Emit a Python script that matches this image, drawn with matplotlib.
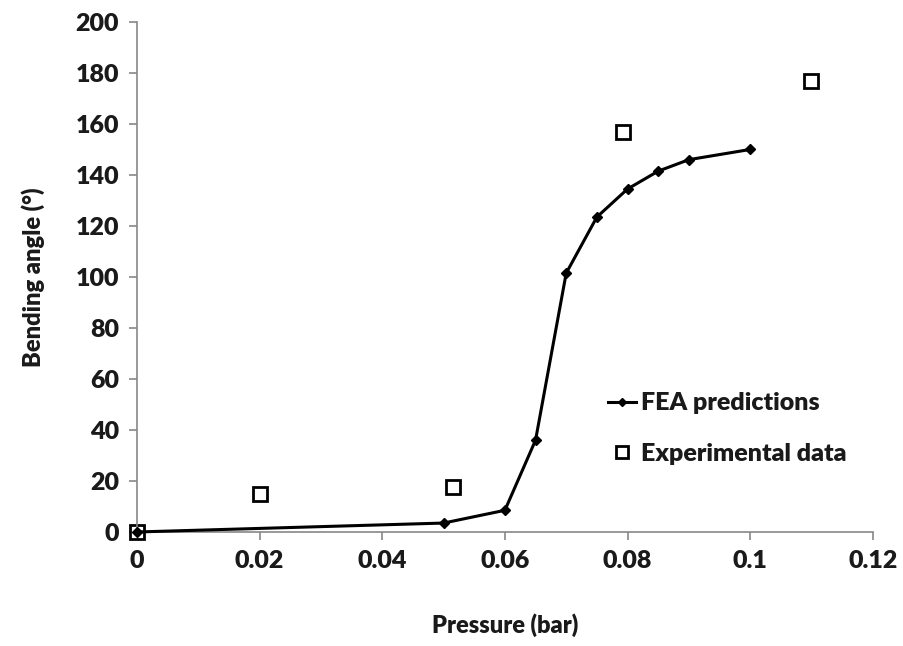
import matplotlib.pyplot as plt

# --- data --------------------------------------------------------------
fea_p     = [0, 0.05, 0.06, 0.065, 0.07, 0.075, 0.08, 0.085, 0.09, 0.1]
fea_angle = [0, 3.5, 8.5, 36, 101.5, 123.5, 134.5, 141.5, 146, 150]

exp_p     = [0, 0.02, 0.0516, 0.0793, 0.11]
exp_angle = [0, 15, 17.5, 157, 177]

xticks = [0, 0.02, 0.04, 0.06, 0.08, 0.1, 0.12]
xtick_labels = ["0", "0.02", "0.04", "0.06", "0.08", "0.1", "0.12"]
yticks = list(range(0, 201, 20))
# -----------------------------------------------------------------------

plt.rcParams["font.family"] = ["Lato", "DejaVu Sans"]
plt.rcParams["font.weight"] = "heavy"

fig = plt.figure(figsize=(9.04, 6.46), dpi=100)
ax = fig.add_axes([0.1515, 0.1765, 0.814, 0.7895])

ax.plot(fea_p, fea_angle, color="black", lw=2.2, marker="D", ms=5,
        clip_on=False, zorder=3, label="FEA predictions")
ax.plot(exp_p, exp_angle, ls="none", marker="s", ms=10, mfc="white",
        mec="black", mew=2, clip_on=False, zorder=2, label="Experimental data")

ax.set_xlim(0, 0.12)
ax.set_ylim(0, 200)
ax.set_xticks(xticks, xtick_labels)
ax.set_yticks(yticks)

for s in ("top", "right"):
    ax.spines[s].set_visible(False)
for s in ("left", "bottom"):
    ax.spines[s].set_color("#888888")
    ax.spines[s].set_linewidth(1.2)
ax.tick_params(colors="#888888", labelcolor="#1a1a1a", labelsize=18,
               length=6, width=1.2, pad=7)

ax.set_xlabel("Pressure (bar)", fontsize=17, fontweight="heavy",
              color="#1a1a1a", labelpad=30)
ax.set_ylabel("Bending angle (°)", fontsize=17, fontweight="heavy",
              color="#1a1a1a", labelpad=22)

leg = ax.legend(loc="upper left", bbox_to_anchor=(0.61, 0.318), frameon=False,
                fontsize=18, handlelength=1.1, handletextpad=0.2,
                labelspacing=1.15, markerscale=0.8)
for t in leg.get_texts():
    t.set_color("#1a1a1a")

fig.savefig("out.png", dpi=100)
